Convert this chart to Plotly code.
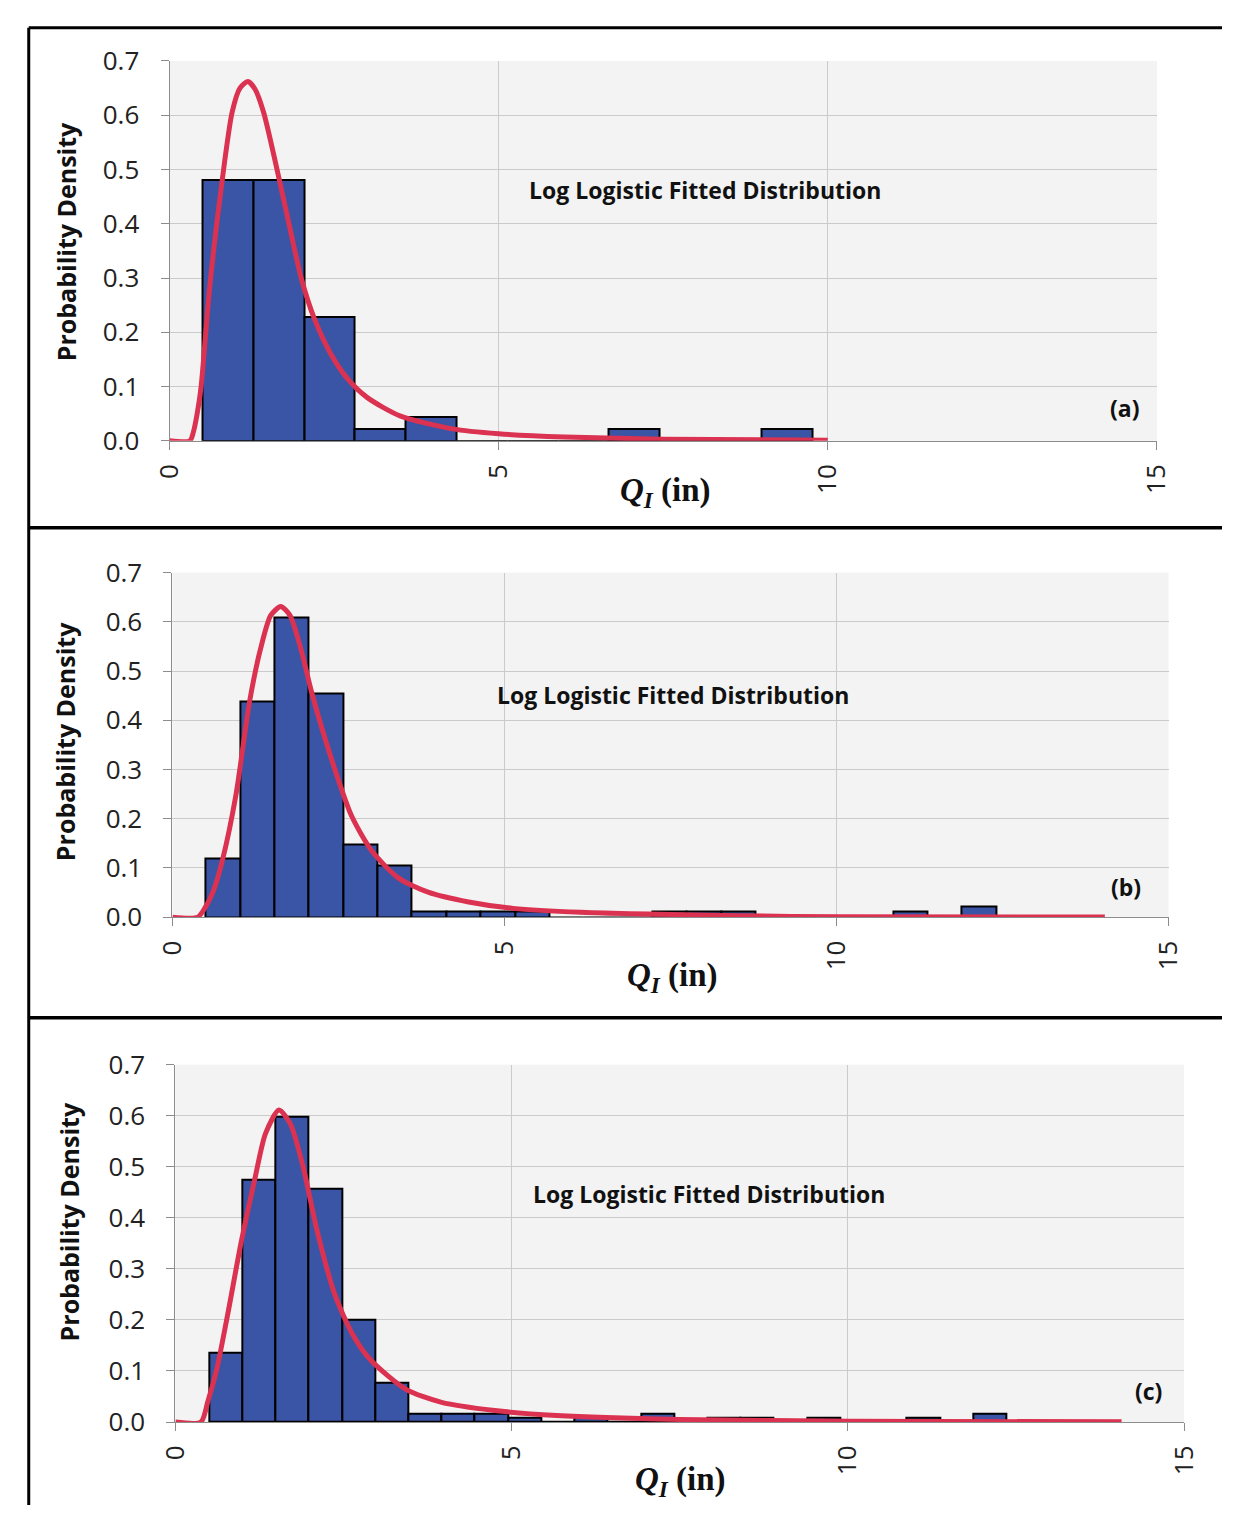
import plotly.graph_objects as go

W, H = 1238, 1522

# ---- Panel (a) ----
bin_start_a, bin_width_a = 0.5, 0.772
dens_a = [0.481, 0.481, 0.229, 0.021, 0.043, 0.0, 0.0, 0.0, 0.021, 0.0, 0.0, 0.021]
curve_a_x = [0, 0.31, 0.36, 0.42, 0.48, 0.61, 0.80, 0.95, 1.07, 1.19, 1.30, 1.43, 1.67,
             1.85, 2.0, 2.2, 2.45, 2.7, 3.0, 3.5, 4.3, 5.0, 6.0, 7.5, 10.0]
curve_a_y = [0, 0, 0.015, 0.05, 0.10, 0.283, 0.48, 0.605, 0.65, 0.662, 0.648, 0.605, 0.48,
             0.38, 0.30, 0.225, 0.16, 0.115, 0.08, 0.046, 0.022, 0.013, 0.007, 0.003, 0.001]

# ---- Panel (b) ----
bin_start_b, bin_width_b = 0.5, 0.5175
dens_b = [0.119, 0.437, 0.609, 0.455, 0.147, 0.104, 0.011, 0.011, 0.011, 0.011,
          0.0, 0.0, 0.0, 0.011, 0.011, 0.011, 0.0, 0.0, 0.0, 0.0, 0.011, 0.0, 0.021]
curve_b_x = [0, 0.38, 0.485, 0.61, 0.755, 0.957, 1.16, 1.33, 1.48, 1.63, 1.77, 1.93,
             2.10, 2.41, 2.7, 3.0, 3.4, 3.85, 4.46, 5.13, 6.15, 8.5, 10.05, 14.04]
curve_b_y = [0, 0, 0.018, 0.051, 0.117, 0.249, 0.437, 0.547, 0.613, 0.631, 0.613, 0.547,
             0.455, 0.315, 0.205, 0.135, 0.08, 0.051, 0.031, 0.018, 0.0099, 0.003, 0.001, 0.0003]

# ---- Panel (c) ----
bin_start_c, bin_width_c = 0.5, 0.494
dens_c = [0.135, 0.474, 0.598, 0.458, 0.201, 0.077, 0.017, 0.017, 0.017, 0.0085,
          0.0, 0.0085, 0.0, 0.017, 0.0, 0.0085, 0.0085, 0.0, 0.0085, 0.0, 0.0, 0.0085,
          0.0, 0.017]
curve_c_x = [0, 0.38, 0.48, 0.615, 0.78, 0.98, 1.18, 1.34, 1.54, 1.71, 1.90, 2.10,
             2.37, 2.63, 2.90, 3.43, 3.96, 4.75, 5.67, 7.5, 10.0, 14.07]
curve_c_y = [0, 0, 0.0385, 0.103, 0.212, 0.353, 0.475, 0.565, 0.611, 0.584, 0.50, 0.379,
             0.25, 0.173, 0.122, 0.064, 0.0385, 0.0225, 0.0128, 0.005, 0.0015, 0.0003]

y_ticks = [0.0, 0.1, 0.2, 0.3, 0.4, 0.5, 0.6, 0.7]
y_tick_text = ["0.0", "0.1", "0.2", "0.3", "0.4", "0.5", "0.6", "0.7"]
x_ticks = [0, 5, 10, 15]
panel_tags = ["(a)", "(b)", "(c)"]
note_text = "Log Logistic Fitted Distribution"

BAR_BLUE = "#3A55A5"
CURVE_RED = "#DA3250"
PLOT_BG = "#F3F3F3"
GRID = "#CACACA"
SANS = "Open Sans"
SERIF = "Liberation Serif"

# plot-area frames in pixels: left, right, top, bottom
frames = [(154, 1171, 43, 432), (157, 1183, 567, 920), (160, 1199, 1071, 1437)]
note_pos = [(8.13, 0.462), (7.54, 0.452), (7.94, 0.447)]
tag_pos = [(14.5, 0.061), (14.36, 0.062), (14.47, 0.061)]
xtitle_px = [(665, 485), (672, 982), (680, 1498)]
ytitle_px = [(47, 228), (47, 740), (50, 1232)]

panels = [
    (bin_start_a, bin_width_a, dens_a, curve_a_x, curve_a_y),
    (bin_start_b, bin_width_b, dens_b, curve_b_x, curve_b_y),
    (bin_start_c, bin_width_c, dens_c, curve_c_x, curve_c_y),
]

fig = go.Figure()
annotations = []

for i, (start, width, dens, cx, cy) in enumerate(panels):
    n = "" if i == 0 else str(i + 1)
    xref, yref = "x" + n, "y" + n
    centers = [start + (k + 0.5) * width for k in range(len(dens))]
    fig.add_trace(go.Bar(
        x=centers, y=dens, width=width, xaxis=xref, yaxis=yref,
        marker=dict(color=BAR_BLUE, line=dict(color="black", width=2)),
        showlegend=False,
    ))
    fig.add_trace(go.Scatter(
        x=cx, y=cy, mode="lines", xaxis=xref, yaxis=yref,
        line=dict(color=CURVE_RED, width=5, shape="spline", smoothing=0.7),
        showlegend=False,
    ))

    l, r, t, b = frames[i]
    xa = dict(
        domain=[l / W, r / W], range=[0, 15], anchor=yref,
        tickmode="array", tickvals=x_ticks, ticktext=[str(v) for v in x_ticks],
        tickangle=-90, ticks="outside", ticklen=8, tickcolor="#8C8C8C",
        showline=True, linecolor="#8C8C8C", linewidth=1,
        showgrid=True, gridcolor=GRID, gridwidth=1, zeroline=False,
        tickfont=dict(family=SANS, size=26, color="#222222"),
        ticklabelstandoff=4,
    )
    ya = dict(
        domain=[1 - b / H, 1 - t / H], range=[0, 0.7], anchor=xref,
        tickmode="array", tickvals=y_ticks, ticktext=y_tick_text,
        ticks="outside", ticklen=8, tickcolor="#8C8C8C",
        showline=True, linecolor="#8C8C8C", linewidth=1,
        showgrid=True, gridcolor=GRID, gridwidth=1, zeroline=False,
        tickfont=dict(family=SANS, size=26, color="#222222"),
        ticklabelstandoff=16,
    )
    fig.layout["xaxis" + n] = xa
    fig.layout["yaxis" + n] = ya

    annotations.append(dict(
        x=note_pos[i][0], y=note_pos[i][1], xref=xref, yref=yref,
        xanchor="center", yanchor="middle",
        text="<b>" + note_text + "</b>", showarrow=False,
        font=dict(family=SANS, size=23, color="#111111"),
    ))
    annotations.append(dict(
        x=tag_pos[i][0], y=tag_pos[i][1], xref=xref, yref=yref,
        xanchor="center", yanchor="middle",
        text="<b>" + panel_tags[i] + "</b>", showarrow=False,
        font=dict(family=SANS, size=23, color="#111111"),
    ))
    annotations.append(dict(
        x=xtitle_px[i][0] / W, y=1 - xtitle_px[i][1] / H, xref="paper", yref="paper",
        xanchor="center", yanchor="middle",
        text="<b><i>Q<sub>I</sub></i> (in)</b>", showarrow=False,
        font=dict(family=SERIF, size=33, color="#111111"),
    ))
    annotations.append(dict(
        x=ytitle_px[i][0] / W, y=1 - ytitle_px[i][1] / H, xref="paper", yref="paper",
        xanchor="center", yanchor="middle",
        text="<b>Probability Density</b>", showarrow=False, textangle=-90,
        font=dict(family=SANS, size=25, color="#111111"),
    ))

# outer frame and panel separators
shapes = [
    dict(type="line", xref="paper", yref="paper", x0=9 / W, x1=1, y0=1 - 9 / H, y1=1 - 9 / H,
         line=dict(color="black", width=3)),
    dict(type="line", xref="paper", yref="paper", x0=9 / W, x1=9 / W, y0=1 - 9 / H, y1=0,
         line=dict(color="black", width=3)),
    dict(type="line", xref="paper", yref="paper", x0=9 / W, x1=1, y0=1 - 521 / H, y1=1 - 521 / H,
         line=dict(color="black", width=3.5)),
    dict(type="line", xref="paper", yref="paper", x0=9 / W, x1=1, y0=1 - 1023 / H, y1=1 - 1023 / H,
         line=dict(color="black", width=3.5)),
]

fig.update_layout(
    width=W, height=H, margin=dict(l=0, r=0, t=0, b=0),
    paper_bgcolor="white", plot_bgcolor=PLOT_BG,
    bargap=0, annotations=annotations, shapes=shapes, showlegend=False,
)

fig.write_html(
    "out.html",
    post_script="document.body.style.margin='0';document.body.style.overflow='hidden';",
)
